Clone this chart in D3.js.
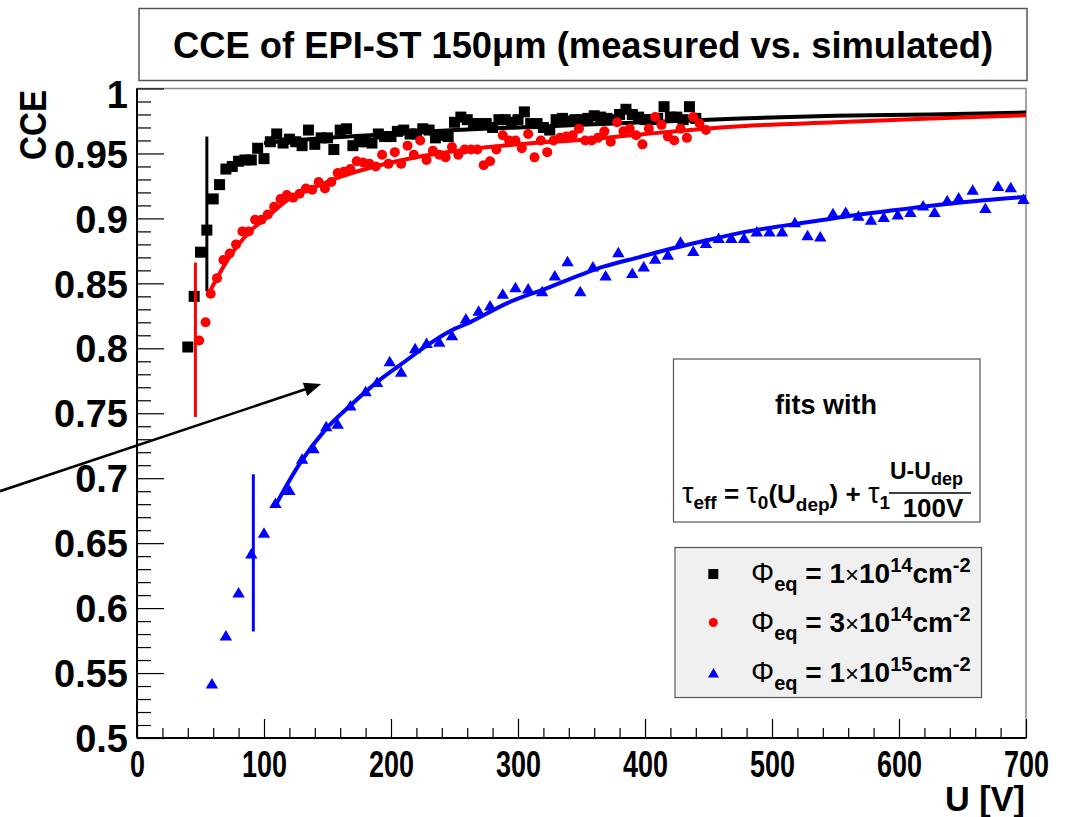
<!DOCTYPE html>
<html>
<head>
<meta charset="utf-8">
<script src="https://cdn.jsdelivr.net/npm/d3@7"></script>
<style>
  body { margin: 0; background: #fff; }
  svg text { font-family: "Liberation Sans", Arial, Helvetica, sans-serif; font-weight: bold; fill: #000; }
</style>
</head>
<body>
<svg id="chart" width="1068" height="817"></svg>
<script>
// axis ticks
const xTicks = [0, 100, 200, 300, 400, 500, 600, 700];
const yTicks = [0.5, 0.55, 0.6, 0.65, 0.7, 0.75, 0.8, 0.85, 0.9, 0.95, 1];
const yTickLabels = ['0.5', '0.55', '0.6', '0.65', '0.7', '0.75', '0.8', '0.85', '0.9', '0.95', '1'];

// Phi_eq = 1e14 (black squares)
const blackU = [40, 45, 50, 55, 60, 65, 70, 75, 80, 85, 90, 95, 100, 105, 110, 115, 120, 125, 130, 135,
  140, 145, 150, 155, 160, 165, 170, 175, 180, 185, 190, 195, 200, 205, 210, 215, 220, 225, 230, 235,
  240, 245, 250, 255, 260, 265, 270, 275, 280, 285, 290, 295, 300, 305, 310, 315, 320, 325, 330, 335,
  340, 345, 350, 355, 360, 365, 370, 375, 380, 385, 390, 395, 400, 405, 410, 415, 420, 425, 430, 435, 440];
const blackCCE = [0.801, 0.840, 0.874, 0.891, 0.915, 0.926, 0.938, 0.940, 0.944, 0.945, 0.945, 0.954, 0.946, 0.959, 0.965, 0.958, 0.961, 0.959, 0.956, 0.968,
  0.957, 0.962, 0.962, 0.953, 0.968, 0.969, 0.956, 0.959, 0.959, 0.958, 0.965, 0.963, 0.963, 0.967, 0.968, 0.965, 0.965, 0.969, 0.968, 0.962,
  0.964, 0.963, 0.974, 0.978, 0.976, 0.973, 0.973, 0.973, 0.970, 0.976, 0.976, 0.974, 0.976, 0.982, 0.973, 0.973, 0.970, 0.968, 0.976, 0.977,
  0.975, 0.976, 0.976, 0.977, 0.979, 0.978, 0.977, 0.976, 0.980, 0.984, 0.980, 0.978, 0.976, 0.976, 0.977, 0.986, 0.978, 0.978, 0.976, 0.986, 0.977];

// Phi_eq = 3e14 (red circles)
const redU = [49, 54, 58, 63, 68, 73, 78, 83, 88, 93, 98, 103, 108, 113, 118, 123, 128, 133, 138, 143,
  148, 153, 158, 163, 168, 173, 178, 183, 188, 193, 198, 203, 208, 213, 218, 223, 228, 233, 238, 243,
  248, 253, 258, 263, 268, 273, 278, 283, 288, 293, 298, 303, 308, 313, 318, 323, 328, 333, 338, 343,
  348, 353, 358, 363, 368, 373, 378, 383, 388, 393, 398, 403, 408, 413, 418, 423, 428, 433, 438, 443, 448];
const redCCE = [0.806, 0.820, 0.842, 0.854, 0.868, 0.873, 0.880, 0.890, 0.890, 0.899, 0.899, 0.903, 0.909, 0.915, 0.918, 0.916, 0.919, 0.923, 0.922, 0.928,
  0.923, 0.928, 0.935, 0.936, 0.938, 0.944, 0.943, 0.942, 0.940, 0.949, 0.942, 0.951, 0.942, 0.956, 0.949, 0.960, 0.945, 0.952, 0.949, 0.947,
  0.955, 0.949, 0.953, 0.953, 0.953, 0.941, 0.944, 0.953, 0.964, 0.960, 0.960, 0.954, 0.965, 0.947, 0.960, 0.951, 0.960, 0.962, 0.963, 0.964,
  0.969, 0.960, 0.960, 0.962, 0.967, 0.959, 0.974, 0.967, 0.969, 0.964, 0.957, 0.969, 0.978, 0.972, 0.963, 0.960, 0.969, 0.962, 0.978, 0.973, 0.968];

// Phi_eq = 1e15 (blue triangles)
const blueU = [59, 70, 80, 90, 100, 109, 120, 130, 139, 149, 158, 168, 180, 189, 199, 208, 219, 228, 238, 248,
  259, 269, 278, 288, 298, 308, 319, 329, 339, 349, 359, 369, 379, 390, 399, 408, 418, 428, 438, 448,
  458, 468, 478, 488, 498, 508, 518, 528, 538, 548, 558, 568, 578, 588, 599, 609, 619, 628, 638, 647,
  658, 668, 678, 688, 698];
const blueCCE = [0.542, 0.579, 0.612, 0.642, 0.658, 0.681, 0.691, 0.715, 0.723, 0.740, 0.742, 0.756, 0.767, 0.774, 0.790, 0.782, 0.800, 0.804, 0.805, 0.810,
  0.823, 0.829, 0.833, 0.842, 0.847, 0.846, 0.844, 0.856, 0.867, 0.844, 0.863, 0.856, 0.874, 0.858, 0.863, 0.869, 0.872, 0.882, 0.875, 0.881,
  0.885, 0.885, 0.885, 0.890, 0.890, 0.890, 0.897, 0.887, 0.886, 0.904, 0.905, 0.902, 0.899, 0.901, 0.903, 0.905, 0.910, 0.905, 0.914, 0.916,
  0.922, 0.908, 0.925, 0.924, 0.915];

// fit curves
const blackFitU = [100, 150, 200, 250, 300, 350, 400, 475, 550, 625, 700];
const blackFitCCE = [0.958, 0.962, 0.965, 0.968, 0.970, 0.972, 0.974, 0.977, 0.979, 0.980, 0.9815];
const redFitU = [58, 70, 80, 90, 100, 120, 140, 160, 180, 200, 231, 260, 300, 357, 400, 475, 550, 625, 700];
const redFitCCE = [0.845, 0.866, 0.880, 0.891, 0.899, 0.915, 0.924, 0.932, 0.938, 0.943, 0.949, 0.953, 0.957, 0.961, 0.965, 0.971, 0.974, 0.977, 0.9795];
const blueFitU = [109, 128, 148, 168, 189, 207, 225, 246, 262, 292, 322, 368, 395, 422, 448, 481, 514, 548, 594, 627, 667, 700];
const blueFitCCE = [0.679, 0.711, 0.737, 0.756, 0.774, 0.787, 0.800, 0.813, 0.820, 0.835, 0.846, 0.863, 0.870, 0.877, 0.883, 0.890, 0.895, 0.900, 0.906, 0.910, 0.914, 0.9166];

// depletion voltage markers
const udepU = [55, 46, 91.6];
const udepLow = [0.844, 0.747, 0.582];
const udepHigh = [0.963, 0.866, 0.703];
const seriesColors = ['#000000', '#ff0000', '#0000ff'];

// annotation arrow (data coordinates)
const arrowFrom = [-107.9, 0.690];
const arrowTo = [145, 0.7725];

const svg = d3.select('#chart');
const frame = { left: 137, right: 1026, top: 88.5, bottom: 738 };

const x = d3.scaleLinear().domain([0, 700]).range([frame.left, frame.right]);
const y = d3.scaleLinear().domain([0.5, 1]).range([frame.bottom, frame.top]);

// title box
svg.append('rect')
  .attr('x', 139).attr('y', 8.5).attr('width', 888).attr('height', 72)
  .attr('fill', '#fff').attr('stroke', '#555').attr('stroke-width', 1.5);
svg.append('text')
  .attr('x', 583).attr('y', 58).attr('text-anchor', 'middle')
  .attr('font-size', 37)
  .attr('textLength', 820).attr('lengthAdjust', 'spacingAndGlyphs')
  .text('CCE of EPI-ST 150\u03bcm (measured vs. simulated)');

// frame
svg.append('rect')
  .attr('x', frame.left).attr('y', frame.top)
  .attr('width', frame.right - frame.left).attr('height', frame.bottom - frame.top)
  .attr('fill', '#fff').attr('stroke', '#888').attr('stroke-width', 1.5);

// axes
const xMajor = svg.append('g')
  .attr('transform', `translate(0,${frame.bottom})`)
  .call(d3.axisBottom(x).tickValues(xTicks).tickSize(-19).tickSizeOuter(0));
svg.append('g')
  .attr('transform', `translate(0,${frame.bottom})`)
  .call(d3.axisBottom(x).tickValues(d3.range(20, 700, 20).filter(v => v % 100 !== 0)).tickSize(-10).tickSizeOuter(0).tickFormat(''));

const yMajor = svg.append('g')
  .attr('transform', `translate(${frame.left},0)`)
  .call(d3.axisLeft(y).tickValues(yTicks).tickSize(-27).tickSizeOuter(0).tickPadding(9)
    .tickFormat((d, i) => yTickLabels[i]));
svg.append('g')
  .attr('transform', `translate(${frame.left},0)`)
  .call(d3.axisLeft(y).tickValues(d3.range(0.51, 1.0, 0.01).filter(v => Math.round(v * 100) % 5 !== 0)).tickSize(-14).tickSizeOuter(0).tickFormat(''));

svg.selectAll('.domain').remove();
svg.selectAll('.tick line').attr('stroke', '#000').attr('stroke-width', 1.2);

xMajor.selectAll('text')
  .attr('y', 39).attr('dy', 0)
  .attr('font-size', 37)
  .attr('textLength', d => String(d).length * 15)
  .attr('lengthAdjust', 'spacingAndGlyphs');
yMajor.selectAll('text')
  .attr('font-size', 38)
  .attr('dy', d => d === 1 ? '0.5em' : '0.36em');

svg.append('line')
  .attr('x1', frame.left).attr('x2', frame.left).attr('y1', frame.top).attr('y2', frame.bottom)
  .attr('stroke', '#000').attr('stroke-width', 2);
svg.append('line')
  .attr('x1', frame.left).attr('x2', frame.right).attr('y1', frame.bottom).attr('y2', frame.bottom)
  .attr('stroke', '#000').attr('stroke-width', 2);

// axis titles
svg.append('text')
  .attr('transform', 'translate(46,90) rotate(-90)')
  .attr('text-anchor', 'end').attr('font-size', 37)
  .attr('textLength', 70).attr('lengthAdjust', 'spacingAndGlyphs')
  .text('CCE');
svg.append('text')
  .attr('x', 1025).attr('y', 811).attr('text-anchor', 'end').attr('font-size', 35)
  .attr('textLength', 80).attr('lengthAdjust', 'spacingAndGlyphs')
  .text('U [V]');

// series
const plot = svg.append('g');
const fitLine = d3.line().x(d => x(d[0])).y(d => y(d[1])).curve(d3.curveMonotoneX);

function drawUdep(i) {
  plot.append('line')
    .attr('x1', x(udepU[i])).attr('x2', x(udepU[i]))
    .attr('y1', y(udepLow[i])).attr('y2', y(udepHigh[i]))
    .attr('stroke', seriesColors[i]).attr('stroke-width', 3);
}
function drawFit(us, vs, color) {
  plot.append('path')
    .datum(us.map((u, i) => [u, vs[i]]))
    .attr('d', fitLine)
    .attr('fill', 'none').attr('stroke', color).attr('stroke-width', 4);
}

const tri = 'M0,-5.5L6.2,5L-6.2,5Z';

// black
plot.selectAll('.sq').data(blackU.map((u, i) => [u, blackCCE[i]])).enter()
  .append('rect').attr('class', 'sq')
  .attr('x', d => x(d[0]) - 5.5).attr('y', d => y(d[1]) - 5.5)
  .attr('width', 11).attr('height', 11).attr('fill', '#000');
drawUdep(0);
drawFit(blackFitU, blackFitCCE, '#000');

// red
plot.selectAll('.ci').data(redU.map((u, i) => [u, redCCE[i]])).enter()
  .append('circle').attr('class', 'ci')
  .attr('cx', d => x(d[0])).attr('cy', d => y(d[1])).attr('r', 5).attr('fill', '#ff0000');
drawUdep(1);
drawFit(redFitU, redFitCCE, '#ff0000');

// blue
plot.selectAll('.tr').data(blueU.map((u, i) => [u, blueCCE[i]])).enter()
  .append('path').attr('class', 'tr')
  .attr('transform', d => `translate(${x(d[0])},${y(d[1])})`)
  .attr('d', tri).attr('fill', '#0000ff');
drawUdep(2);
drawFit(blueFitU, blueFitCCE, '#0000ff');

// arrow
{
  const x0 = x(arrowFrom[0]), y0 = y(arrowFrom[1]);
  const x1 = x(arrowTo[0]), y1 = y(arrowTo[1]);
  const a = Math.atan2(y1 - y0, x1 - x0);
  const len = 17, hw = 7;
  const bx = x1 - len * Math.cos(a), by = y1 - len * Math.sin(a);
  svg.append('line')
    .attr('x1', x0).attr('y1', y0).attr('x2', bx + 2 * Math.cos(a)).attr('y2', by + 2 * Math.sin(a))
    .attr('stroke', '#000').attr('stroke-width', 2.5);
  svg.append('path')
    .attr('d', `M${x1},${y1}L${bx - hw * Math.sin(a)},${by + hw * Math.cos(a)}L${bx + hw * Math.sin(a)},${by - hw * Math.cos(a)}Z`)
    .attr('fill', '#000');
}

// rich text helper: parts = {t, s (size), d (baseline offset), n (normal weight)}
function rich(g, tx, ty, parts, anchor) {
  const t = g.append('text').attr('x', tx).attr('y', ty);
  if (anchor) t.attr('text-anchor', anchor);
  let cur = 0;
  parts.forEach(p => {
    const s = t.append('tspan').text(p.t).attr('font-size', p.s).attr('dy', (p.d || 0) - cur);
    if (p.n) s.attr('font-weight', 'normal');
    cur = p.d || 0;
  });
  return t;
}

// fit description box
svg.append('rect')
  .attr('x', 673.5).attr('y', 359).attr('width', 306.5).attr('height', 163)
  .attr('fill', '#fff').attr('stroke', '#555').attr('stroke-width', 1.2);
svg.append('text').attr('x', 826).attr('y', 414).attr('text-anchor', 'middle').attr('font-size', 27).text('fits with');
rich(svg, 682, 503, [
  { t: '\u03c4', s: 29, n: 1 }, { t: 'eff', s: 19, d: 6 }, { t: ' = ', s: 26 },
  { t: '\u03c4', s: 29, n: 1 }, { t: '0', s: 19, d: 6 }, { t: '(U', s: 26 },
  { t: 'dep', s: 19, d: 8 }, { t: ') + ', s: 26 },
  { t: '\u03c4', s: 29, n: 1 }, { t: '1', s: 19, d: 6 }
]);
rich(svg, 890, 479, [{ t: 'U-U', s: 23 }, { t: 'dep', s: 18, d: 6 }]);
svg.append('line').attr('x1', 889).attr('x2', 971).attr('y1', 493).attr('y2', 493)
  .attr('stroke', '#000').attr('stroke-width', 1.5);
svg.append('text').attr('x', 933).attr('y', 517).attr('text-anchor', 'middle').attr('font-size', 26).text('100V');

// legend
const legend = svg.append('g');
legend.append('rect')
  .attr('x', 675).attr('y', 547.5).attr('width', 306.5).attr('height', 150)
  .attr('fill', '#f0f0f0').attr('stroke', '#555').attr('stroke-width', 1.2);
const legendRows = [
  { mant: '1', exp: '14', cy: 574 },
  { mant: '3', exp: '14', cy: 622.5 },
  { mant: '1', exp: '15', cy: 673 }
];
legend.append('rect').attr('x', 708.3).attr('y', legendRows[0].cy - 5).attr('width', 10).attr('height', 10).attr('fill', '#000');
legend.append('circle').attr('cx', 713.3).attr('cy', legendRows[1].cy).attr('r', 4.5).attr('fill', '#ff0000');
legend.append('path').attr('transform', `translate(713.5,${legendRows[2].cy}) scale(0.9)`).attr('d', tri).attr('fill', '#0000ff');
legendRows.forEach(r => {
  rich(legend, 751, r.cy + 9, [
    { t: '\u03a6', s: 29, n: 1 }, { t: 'eq', s: 20, d: 8 }, { t: ' = ' + r.mant, s: 28 },
    { t: '\u00d7', s: 24, n: 1 }, { t: '10', s: 28 }, { t: r.exp, s: 20, d: -11 },
    { t: 'cm', s: 28 }, { t: '-2', s: 20, d: -11 }
  ]);
});
</script>
</body>
</html>
